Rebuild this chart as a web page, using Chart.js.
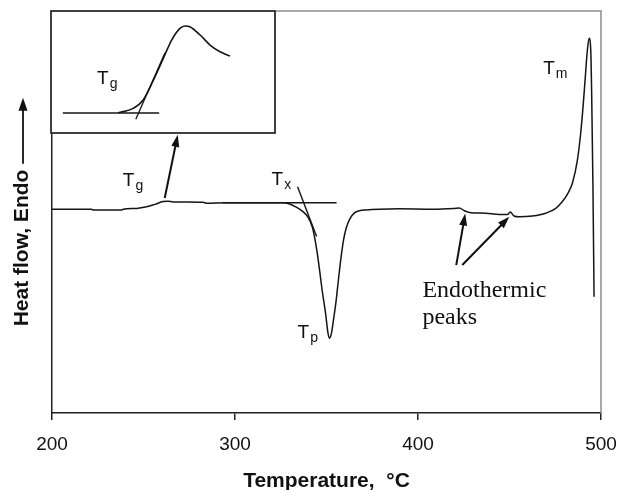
<!DOCTYPE html>
<html>
<head>
<meta charset="utf-8">
<script src="https://cdn.jsdelivr.net/npm/chart.js@4.4.1/dist/chart.umd.min.js"></script>
<style>
  body { margin: 0; background: #fff; }
  #wrap { position: relative; width: 618px; height: 490px; }
  #insetChart { position: absolute; left: 50px; top: 10px; }
</style>
</head>
<body>
<div id="wrap">
  <canvas id="dscChart" width="618" height="490"></canvas>
  <canvas id="insetChart" width="226" height="124"></canvas>
</div>
<script>
// DSC trace, heating scan (arbitrary heat-flow units, endo up)
const temperature = [200, 221.6, 222.5, 238, 238.9, 246.2, 251.7, 256.2, 260.7, 263.4, 266.2, 282.5, 284.4, 295.3, 310,
  326.2, 329.8, 333.5, 337.1, 339.8, 342.2, 343.5, 344.7, 346.2, 347.6, 349.5, 350.7, 351.6, 352.7, 353.8, 355.3, 356.7,
  358.0, 359.3, 360.7, 362.9, 365.3, 368.0, 371.6, 378.9, 389.8, 408, 419.8, 422.5, 425.3, 428, 437.1, 444.4, 448.9,
  450.4, 452.5, 455.3, 462.5, 469.8, 475.3, 478.9, 481.6, 484.4, 487.1, 488.9, 490.2, 491.3, 492.4, 493.5, 494.4,
  494.9, 495.6, 496.2];
const heatFlow = [50.7, 50.7, 50.5, 50.5, 50.7, 50.9, 51.3, 51.9, 52.6, 52.7, 52.5, 52.4, 52.2, 52.3, 52.3,
  52.3, 52.0, 51.2, 50.1, 48.8, 46.3, 43.7, 40.5, 35.6, 30.6, 24.8, 20.2, 18.6, 19.8, 23.1, 28.1, 33.9,
  38.9, 43.0, 45.9, 48.4, 49.8, 50.3, 50.5, 50.7, 50.8, 50.7, 50.9, 51.0, 50.3, 49.9, 49.7, 49.4, 49.4,
  50.0, 49.0, 48.8, 49.0, 49.7, 50.9, 52.6, 54.4, 57.2, 62.9, 69.6, 76.2, 82.8, 89.5, 93.2, 90.3,
  79.5, 56.3, 28.9];

// onset construction for Tx
const txBaseT = [293.3, 355.5];
const txBaseY = [52.3, 52.3];
const txTangentT = [334.2, 344.6];
const txTangentY = [56.3, 43.9];

const xTicks = [200, 300, 400, 500];

// magnified glass transition (inset)
const insetT = [251.0, 255.7, 258.8, 262.0, 265.1, 267.7, 270.3, 271.9, 273.4, 276.6, 279.7, 282.8, 285.9];
const insetHeat = [16.6, 20.2, 27.0, 43.4, 61.2, 76.2, 85.8, 87.7, 87.1, 80.3, 72.1, 66.6, 63.1];
const insetBaseT = [233.7, 263.8];
const insetBaseY = [16.4, 16.4];
const insetTangentT = [256.5, 265.6];
const insetTangentY = [11.2, 65.6];

const SANS = "'Liberation Sans', Arial, sans-serif";
const SERIF = "'Liberation Serif', 'Times New Roman', serif";
Chart.defaults.font.family = SANS;
Chart.defaults.color = '#111';

const pts = (xs, ys) => xs.map((v, i) => ({x: v, y: ys[i]}));

function arrowTo(ctx, x1, y1, x2, y2, len = 12, half = 4) {
    const a = Math.atan2(y2 - y1, x2 - x1);
    const c = Math.cos(a), s = Math.sin(a);
    ctx.beginPath();
    ctx.moveTo(x1, y1);
    ctx.lineTo(x2 - c * len * 0.8, y2 - s * len * 0.8);
    ctx.stroke();
    ctx.beginPath();
    ctx.moveTo(x2, y2);
    ctx.lineTo(x2 - len * c + half * s, y2 - len * s - half * c);
    ctx.lineTo(x2 - len * c - half * s, y2 - len * s + half * c);
    ctx.closePath();
    ctx.fill();
}

function subLabel(ctx, x, y, main, sub) {
    ctx.font = '19px ' + SANS;
    ctx.fillText(main, x, y);
    const w = ctx.measureText(main).width;
    ctx.font = '14px ' + SANS;
    ctx.fillText(sub, x + w + 1, y + 4);
}

// frame, arrows, annotations and the y title
const markup = {
    id: 'markup',
    afterDraw(chart) {
        const {ctx, chartArea: a, scales: {x, y}} = chart;
        const px = v => x.getPixelForValue(v);
        const py = v => y.getPixelForValue(v);
        ctx.save();
        ctx.strokeStyle = '#8c8c8c';
        ctx.lineWidth = 1.5;
        ctx.beginPath();
        ctx.moveTo(a.left, a.top);
        ctx.lineTo(a.right, a.top);
        ctx.lineTo(a.right, a.bottom);
        ctx.stroke();

        ctx.strokeStyle = '#111';
        ctx.fillStyle = '#111';
        ctx.lineWidth = 2;
        arrowTo(ctx, px(261.6), py(53.5), px(268.7), py(69.2));
        arrowTo(ctx, px(420.9), py(36.8), px(425.8), py(49.6));
        arrowTo(ctx, px(424.2), py(36.8), px(449.9), py(48.8));

        ctx.textAlign = 'left';
        ctx.textBaseline = 'alphabetic';
        subLabel(ctx, px(238.7), py(56.5), 'T', 'g');
        subLabel(ctx, px(320), py(56.7), 'T', 'x');
        subLabel(ctx, px(334.2), py(18.7), 'T', 'p');
        subLabel(ctx, px(468.4), py(84.3), 'T', 'm');

        ctx.font = '24px ' + SERIF;
        ctx.fillText('Endothermic', px(402.4), py(28.9));
        ctx.fillText('peaks', px(402.4), py(22.1));

        // rotated axis title followed by an upward arrow
        ctx.font = 'bold 21px ' + SANS;
        const title = 'Heat flow, Endo';
        const tw = ctx.measureText(title).width;
        const gap = 6, arrowLen = 66;
        const total = tw + gap + arrowLen;
        const midY = (a.top + a.bottom) / 2;
        ctx.translate(28, midY + total / 2);
        ctx.rotate(-Math.PI / 2);
        ctx.fillText(title, 0, 0);
        ctx.lineWidth = 1.8;
        arrowTo(ctx, tw + gap, -5, total, -5, 13, 4.5);
        ctx.restore();
    }
};

new Chart(document.getElementById('dscChart'), {
    type: 'scatter',
    data: {
        datasets: [
            {data: pts(temperature, heatFlow), showLine: true, borderColor: '#151515', borderWidth: 1.5,
             pointRadius: 0, cubicInterpolationMode: 'monotone'},
            {data: pts(txBaseT, txBaseY), showLine: true, borderColor: '#151515', borderWidth: 1.7, pointRadius: 0},
            {data: pts(txTangentT, txTangentY), showLine: true, borderColor: '#151515', borderWidth: 1.4, pointRadius: 0}
        ]
    },
    options: {
        responsive: false,
        animation: false,
        layout: {padding: {top: 11, right: 17, left: 0, bottom: 0}},
        plugins: {legend: {display: false}, tooltip: {enabled: false}},
        scales: {
            x: {
                type: 'linear',
                min: 200,
                max: 500,
                afterBuildTicks: s => { s.ticks = xTicks.map(v => ({value: v})); },
                afterFit: s => { s.height = 77; s.paddingLeft = 0; s.paddingRight = 0; },
                ticks: {font: {size: 19}, color: '#111', padding: 13, maxRotation: 0},
                grid: {drawOnChartArea: false, drawTicks: true, tickLength: 7, color: '#222', lineWidth: 1.5},
                border: {display: true, color: '#222', width: 1.5},
                title: {display: true, text: 'Temperature,  °C', color: '#111',
                        font: {size: 21, weight: 'bold', lineHeight: 0.8}, padding: 0}
            },
            y: {
                min: 0,
                max: 100,
                afterFit: s => { s.width = 52; },
                ticks: {display: false},
                grid: {display: false},
                border: {display: true, color: '#222', width: 1.5}
            }
        }
    },
    plugins: [markup]
});

// inset: white box with its own scales
const insetFrame = {
    id: 'insetFrame',
    beforeDraw(chart) {
        const {ctx, width, height} = chart;
        ctx.save();
        ctx.fillStyle = '#fff';
        ctx.fillRect(0, 0, width, height);
        ctx.restore();
    },
    afterDraw(chart) {
        const {ctx, width, height, scales: {x, y}} = chart;
        ctx.save();
        ctx.strokeStyle = '#111';
        ctx.lineWidth = 1.6;
        ctx.strokeRect(1, 1, width - 2, height - 2);
        ctx.fillStyle = '#111';
        ctx.textAlign = 'left';
        ctx.textBaseline = 'alphabetic';
        subLabel(ctx, x.getPixelForValue(244.4), y.getPixelForValue(40.2), 'T', 'g');
        ctx.restore();
    }
};

new Chart(document.getElementById('insetChart'), {
    type: 'scatter',
    data: {
        datasets: [
            {data: pts(insetT, insetHeat), showLine: true, borderColor: '#151515', borderWidth: 1.6,
             pointRadius: 0, cubicInterpolationMode: 'monotone'},
            {data: pts(insetBaseT, insetBaseY), showLine: true, borderColor: '#151515', borderWidth: 1.3, pointRadius: 0},
            {data: pts(insetTangentT, insetTangentY), showLine: true, borderColor: '#151515', borderWidth: 1.3, pointRadius: 0}
        ]
    },
    options: {
        responsive: false,
        animation: false,
        layout: {padding: 0},
        plugins: {legend: {display: false}, tooltip: {enabled: false}},
        scales: {
            x: {display: false, min: 229.7, max: 300.3},
            y: {display: false, min: -0.8, max: 100.8}
        }
    },
    plugins: [insetFrame]
});
</script>
</body>
</html>
